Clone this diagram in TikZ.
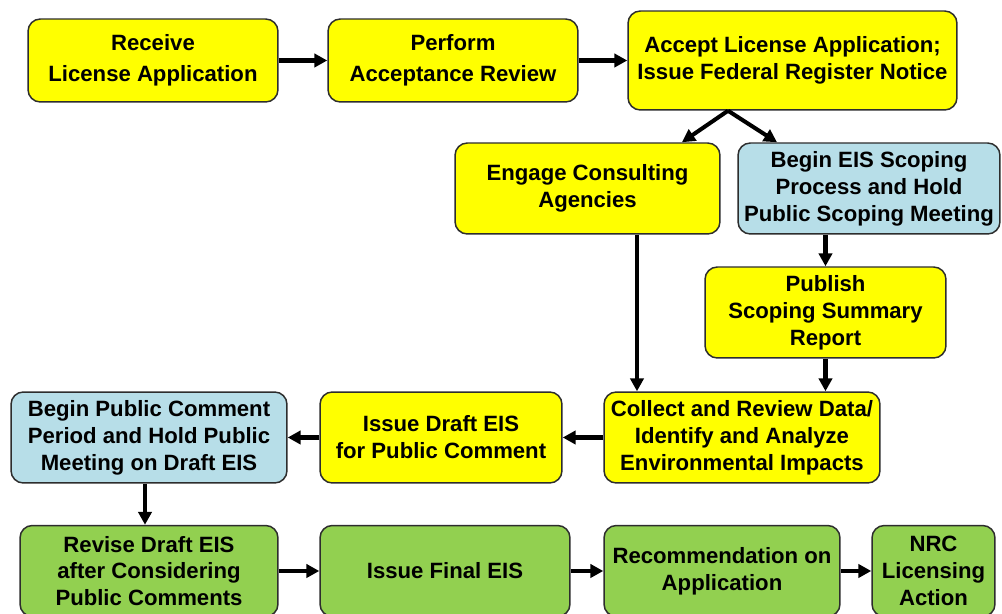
\documentclass[tikz,border=0pt]{standalone}
\usepackage{fontspec}
\setmainfont{Liberation Sans}
\usetikzlibrary{arrows.meta, positioning, calc}
\definecolor{licyellow}{RGB}{255,255,0}
\definecolor{licblue}{RGB}{183,222,232}
\definecolor{licgreen}{RGB}{146,208,80}
\definecolor{licedge}{RGB}{45,45,45}

\begin{document}
\begin{tikzpicture}[x=0.02cm, y=-0.02cm, >={Triangle[length=7.4pt,width=7.6pt]},
    flowbox/.style={draw=licedge, line width=0.85pt, rounded corners=7pt,
      align=center, inner sep=2pt,
      font=\fontsize{12.6}{15.3}\selectfont\bfseries},
    yellowbox/.style={flowbox, fill=licyellow},
    bluebox/.style={flowbox, fill=licblue},
    greenbox/.style={flowbox, fill=licgreen},
    flow/.style={->, line width=2.3pt}]
    \useasboundingbox (0,0) rectangle (1002,614);
    \fill[white] (0,0) rectangle (1002,614);
    \clip (0,0) rectangle (1002,614);

    % top row
    \node[yellowbox, minimum width=5cm, minimum height=1.66cm] (receive) at (153,60.5)
        {Receive\\[2.5pt]License Application};
    \node[yellowbox, minimum width=5cm, minimum height=1.66cm] (perform) at (453,60.5)
        {Perform\\[2.5pt]Acceptance Review};
    \node[yellowbox, minimum width=6.58cm, minimum height=1.98cm] (accept) at (792.5,60.5)
        {Accept License Application;\\Issue Federal Register Notice};

    % consultation and scoping
    \node[yellowbox, minimum width=5.3cm, minimum height=1.82cm] (consult) at (587.5,188.5)
        {Engage Consulting\\Agencies};
    \node[bluebox, minimum width=5.24cm, minimum height=1.82cm] (scoping) at (869,188.5)
        {Begin EIS Scoping\\Process and Hold\\Public Scoping Meeting};
    \node[yellowbox, minimum width=4.82cm, minimum height=1.82cm] (publish) at (825.5,312.5)
        {Publish\\Scoping Summary\\Report};

    % draft EIS row
    \node[yellowbox, minimum width=5.52cm, minimum height=1.82cm] (collect) at (742,437.5)
        {Collect and Review Data/\\Identify and Analyze\\Environmental Impacts};
    \node[yellowbox, minimum width=4.84cm, minimum height=1.82cm] (draft) at (441,437.5)
        {Issue Draft EIS\\for Public Comment};
    \node[bluebox, minimum width=5.52cm, minimum height=1.82cm] (comment) at (149,437.5)
        {Begin Public Comment\\Period and Hold Public\\Meeting on Draft EIS};

    % final row
    \node[greenbox, minimum width=5.16cm, minimum height=1.82cm] (revise) at (149,571)
        {Revise Draft EIS\\after Considering\\Public Comments};
    \node[greenbox, minimum width=5cm, minimum height=1.82cm] (final) at (445,571)
        {Issue Final EIS};
    \node[greenbox, minimum width=4.72cm, minimum height=1.82cm] (recommend) at (722,571)
        {Recommendation on\\Application};
    \node[greenbox, minimum width=2.46cm, minimum height=1.82cm] (action) at (933.5,571)
        {NRC\\Licensing\\Action};

    \coordinate (split) at ([xshift=-1.29cm]accept.south);

    \draw[flow] (receive.east) -- (perform.west);
    \draw[flow] (perform.east) -- (accept.west);
    \draw[flow] (split) -- ([xshift=1.89cm]consult.north);
    \draw[flow] (split) -- ([xshift=-1.84cm]scoping.north);
    \draw[flow] ([xshift=0.99cm]consult.south) -- ([xshift=0.99cm]consult.south |- collect.north);
    \draw[flow] (publish.north |- scoping.south) -- (publish.north);
    \draw[flow] (publish.south) -- (publish.south |- collect.north);
    \draw[flow] (collect.west) -- (draft.east);
    \draw[flow] (draft.west) -- (comment.east);
    \draw[flow] ([xshift=-0.08cm]comment.south) -- ([xshift=-0.08cm]revise.north);
    \draw[flow] (revise.east) -- (final.west);
    \draw[flow] (final.east) -- (recommend.west);
    \draw[flow] (recommend.east) -- (action.west);

\end{tikzpicture}
\end{document}
